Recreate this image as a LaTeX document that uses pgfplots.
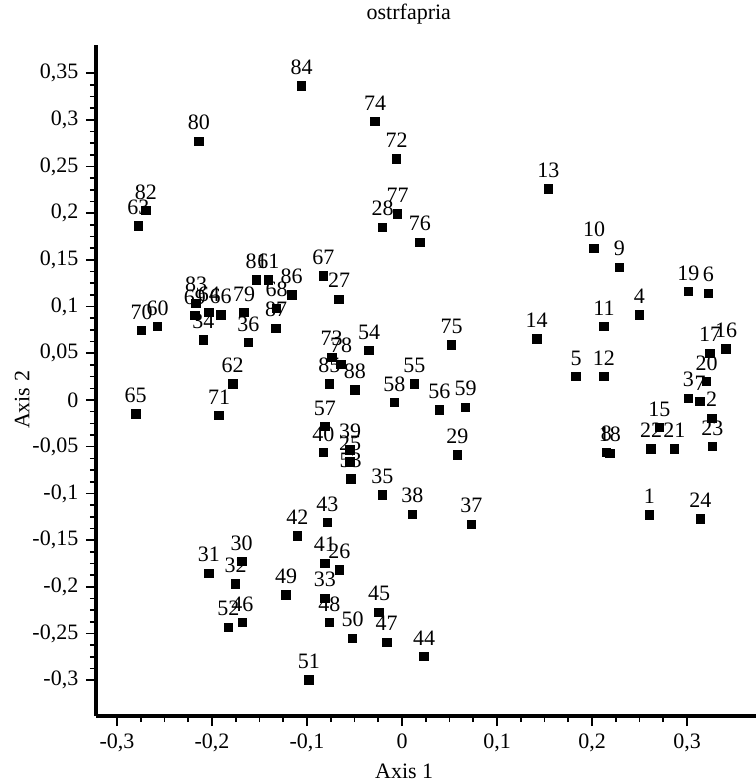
\documentclass[border=0pt]{standalone}
\usepackage{fontspec}
\setmainfont{Liberation Serif}
\usepackage{pgfplots}
\pgfplotsset{compat=1.18}
\usepackage{pgfplotstable}

\pgfplotstableread{
label x y
1 0.2603 -0.1231
2 0.3260 -0.0196
3 0.3014 0.0018
4 0.2498 0.0910
5 0.1832 0.0250
6 0.3225 0.1142
7 0.3137 -0.0018
8 0.2150 -0.0560
9 0.2288 0.1417
10 0.2021 0.1624
11 0.2126 0.0785
12 0.2126 0.0250
13 0.1540 0.2259
14 0.1418 0.0653
15 0.2709 -0.0296
16 0.3411 0.0546
17 0.3242 0.0500
18 0.2189 -0.0571
19 0.3014 0.1160
20 0.3207 0.0196
21 0.2867 -0.0525
22 0.2621 -0.0525
23 0.3267 -0.0500
24 0.3140 -0.1271
25 -0.0547 -0.0664
26 -0.0660 -0.1820
27 -0.0663 0.1078
28 -0.0204 0.1849
29 0.0582 -0.0589
30 -0.1687 -0.1731
31 -0.2032 -0.1856
32 -0.1751 -0.1970
33 -0.0811 -0.2123
34 -0.2091 0.0642
35 -0.0207 -0.1017
36 -0.1618 0.0614
37 0.0730 -0.1331
38 0.0109 -0.1224
39 -0.0547 -0.0535
40 -0.0828 -0.0564
41 -0.0811 -0.1749
42 -0.1102 -0.1456
43 -0.0786 -0.1313
44 0.0232 -0.2748
45 -0.0242 -0.2273
46 -0.1681 -0.2384
47 -0.0161 -0.2594
48 -0.0765 -0.2384
49 -0.1221 -0.2088
50 -0.0519 -0.2552
51 -0.0979 -0.2998
52 -0.1828 -0.2434
53 -0.0540 -0.0846
54 -0.0347 0.0528
55 0.0130 0.0171
56 0.0393 -0.0107
57 -0.0811 -0.0286
58 -0.0081 -0.0029
59 0.0670 -0.0078
60 -0.2572 0.0785
61 -0.1407 0.1285
62 -0.1782 0.0171
63 -0.2776 0.1863
64 -0.2032 0.0935
65 -0.2803 -0.0150
66 -0.1908 0.0910
67 -0.0828 0.1328
68 -0.1319 0.0982
69 -0.2179 0.0903
70 -0.2740 0.0742
71 -0.1926 -0.0168
72 -0.0056 0.2580
73 -0.0740 0.0457
74 -0.0284 0.2980
75 0.0523 0.0589
76 0.0189 0.1688
77 -0.0046 0.1991
78 -0.0642 0.0382
79 -0.1663 0.0935
80 -0.2137 0.2766
81 -0.1530 0.1285
82 -0.2695 0.2027
83 -0.2168 0.1035
84 -0.1056 0.3362
85 -0.0765 0.0171
86 -0.1161 0.1124
87 -0.1326 0.0767
88 -0.0495 0.0107
}\pts

\begin{document}
\fontsize{11}{13}\selectfont
\begin{tikzpicture}
\useasboundingbox (-48pt,-34pt) rectangle (330pt,358pt);
\begin{axis}[
  at={(0,0)}, anchor=south west,
  scale only axis, width=330pt, height=335.5pt,
  xmin=-0.3221, xmax=0.3726, ymin=-0.3383, ymax=0.380,
  axis x line*=bottom, axis y line*=left,
  axis line style={line width=1.6pt, black},
  tick align=outside,
  xtick={-0.3,-0.2,-0.1,0,0.1,0.2,0.3},
  ytick={-0.3,-0.25,-0.2,-0.15,-0.1,-0.05,0,0.05,0.1,0.15,0.2,0.25,0.3,0.35},
  minor tick num=3,
  major tick length=5pt, minor tick length=3pt,
  every tick/.style={black, line width=0.8pt},
  /pgf/number format/use comma,
  /pgf/number format/fixed,
  /pgf/number format/precision=2,
  /pgf/number format/assume math mode=true,
  title={ostrfapria},
  every axis title/.style={at={(axis description cs:0.474,1.046)}, anchor=center},
  xlabel={Axis 1},
  ylabel={Axis 2},
  every axis x label/.style={at={(axis description cs:0.467,-0.082)}, anchor=center},
  every axis y label/.style={at={(axis description cs:-0.112,0.471)}, anchor=center, rotate=90},
  clip=false,
]
\addplot[only marks, mark=square*, mark size=2.1pt, black,
  mark options={draw=black, fill=black},
  point meta=explicit symbolic,
  nodes near coords,
  nodes near coords align={anchor=south},
  every node near coord/.append style={inner sep=0pt, yshift=5.5pt, black}]
  table[x=x, y=y, meta=label]{\pts};
\end{axis}
\end{tikzpicture}
\end{document}
